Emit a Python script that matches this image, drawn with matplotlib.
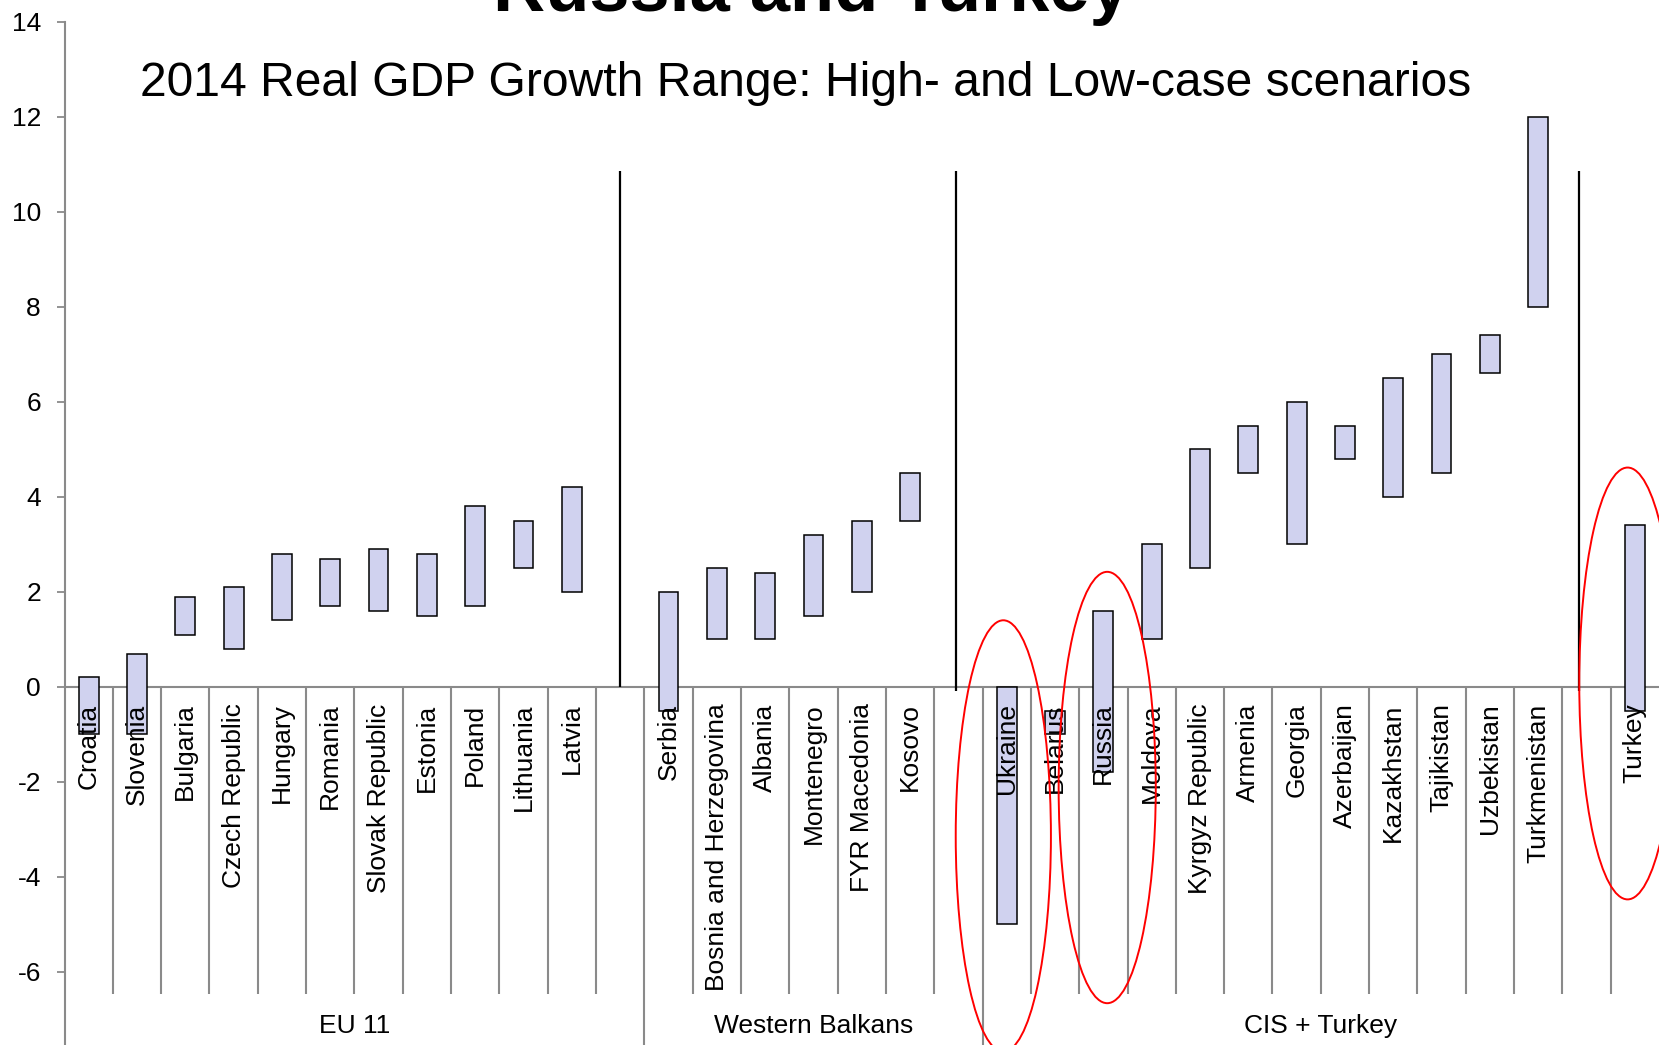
import numpy as np
import matplotlib
matplotlib.use("Agg")
import matplotlib.pyplot as plt
from matplotlib.patches import Ellipse

plt.rcParams['font.family'] = ['Liberation Sans', 'DejaVu Sans']

# Category axis: one slot per country, empty slots separate the regions
group_names = ["EU 11", "Western Balkans", "CIS + Turkey"]
group_sizes = [12, 7, 14]

countries = [
    "Croatia", "Slovenia", "Bulgaria", "Czech Republic", "Hungary", "Romania",
    "Slovak Republic", "Estonia", "Poland", "Lithuania", "Latvia", "",
    "Serbia", "Bosnia and Herzegovina", "Albania", "Montenegro",
    "FYR Macedonia", "Kosovo", "",
    "Ukraine", "Belarus", "Russia", "Moldova", "Kyrgyz Republic", "Armenia",
    "Georgia", "Azerbaijan", "Kazakhstan", "Tajikistan", "Uzbekistan",
    "Turkmenistan", "", "Turkey",
]

# 2014 real GDP growth, low-case and high-case scenario (%)
low_case = [
    -1.0, -1.0, 1.1, 0.8, 1.4, 1.7, 1.6, 1.5, 1.7, 2.5, 2.0, np.nan,
    -0.5, 1.0, 1.0, 1.5, 2.0, 3.5, np.nan,
    -5.0, -1.0, -1.8, 1.0, 2.5, 4.5, 3.0, 4.8, 4.0, 4.5, 6.6, 8.0, np.nan, -0.5,
]
high_case = [
    0.2, 0.7, 1.9, 2.1, 2.8, 2.7, 2.9, 2.8, 3.8, 3.5, 4.2, np.nan,
    2.0, 2.5, 2.4, 3.2, 3.5, 4.5, np.nan,
    0.0, -0.5, 1.6, 3.0, 5.0, 5.5, 6.0, 5.5, 6.5, 7.0, 7.4, 12.0, np.nan, 3.4,
]

# Vertical divider lines between regions (x position, lower end, upper end)
dividers = [(11.0, 0.0, 10.85), (17.95, -0.08, 10.85), (30.85, -0.08, 10.85)]

# Highlight rings: (country, x offset, centre y, width, height)
highlights = [
    ("Ukraine", -0.07, -3.14, 1.97, 9.08),
    ("Russia", 0.08, -2.12, 2.01, 9.08),
    ("Turkey", -0.15, 0.07, 2.0, 9.09),
]

title = "Russia and Turkey"
subtitle = "2014 Real GDP Growth Range: High- and Low-case scenarios"

W, H = 1659, 1045
fig = plt.figure(figsize=(W / 100, H / 100), dpi=100)
ax_left = 64.5 / W
ax_top = 1 - 21.7 / H
ax = fig.add_axes([ax_left, 0.0, 1 - ax_left, ax_top])

n = len(countries)
x = np.arange(n)
low = np.array(low_case)
high = np.array(high_case)

ymin, ymax = -7.54, 14
ax.set_xlim(-0.5, n - 0.5)
ax.set_ylim(ymin, ymax)

gray = "#8a8a8a"
bar_fill = "#d0d2ef"

for s in ("top", "right", "bottom"):
    ax.spines[s].set_visible(False)
ax.spines["left"].set_color(gray)
ax.spines["left"].set_linewidth(1.5)

ax.set_yticks(np.arange(-6, 15, 2))
ax.set_yticklabels([f"{v:d}" for v in range(-6, 15, 2)])
ax.tick_params(axis="y", direction="out", length=6, width=1.3, color=gray,
               labelsize=19, pad=11)
ax.set_xticks([])

# Horizontal category axis at zero
ax.axhline(0, color=gray, lw=1.5, zorder=1)

# Slot boundaries; region boundaries run to the bottom edge
bounds = np.cumsum(group_sizes)[:-1]
for i in range(1, n):
    xb = i - 0.5
    if i in bounds:
        ax.vlines(xb, ymin, 0, color=gray, lw=1.5, zorder=1, clip_on=False)
    else:
        ax.vlines(xb, -6.47, 0, color=gray, lw=1.5, zorder=1)

# Floating bars from low-case to high-case
ax.bar(x, high - low, bottom=low, width=0.41, color=bar_fill,
       edgecolor="black", linewidth=1.1, zorder=3)

for xd, y0, y1 in dividers:
    ax.vlines(xd, y0, y1, color="black", lw=1.6, zorder=3)

# Country labels
for xi, name in zip(x, countries):
    if name:
        ax.text(xi, -0.35, name, rotation=90, ha="center", va="top",
                fontsize=19, zorder=4)

# Region labels
start = 0
for gname, size in zip(group_names, group_sizes):
    ax.text(start + size / 2 - 0.5, -7.14, gname, ha="center", va="center",
            fontsize=19, zorder=4)
    start += size

# Red rings around the highlighted countries
for name, dx, cy, w, h in highlights:
    cx = countries.index(name) + dx
    ax.add_patch(Ellipse((cx, cy), w, h, fill=False, edgecolor="red",
                         lw=1.4, zorder=5, clip_on=False))

fig.text(811 / W, 1 - 11 / H, title, ha="center", va="baseline",
         fontsize=52, fontweight="bold")
fig.text(805.7 / W, 1 - 96 / H, subtitle, ha="center", va="baseline",
         fontsize=34.6)

fig.savefig("out.png", dpi=100)
